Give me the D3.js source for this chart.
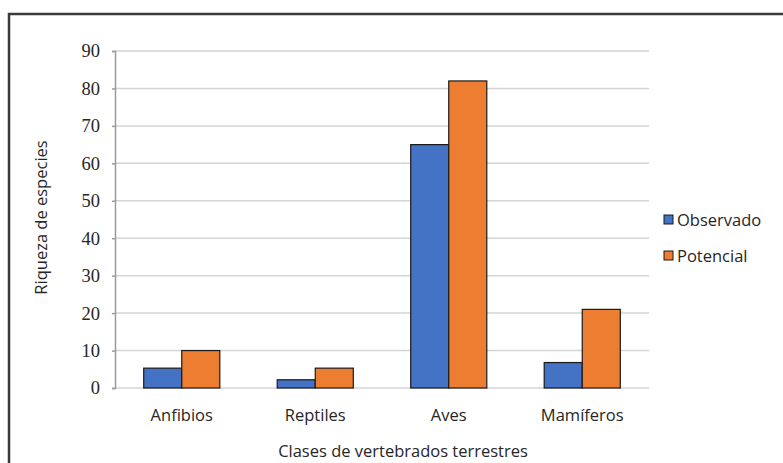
<!DOCTYPE html>
<html>
<head>
<meta charset="utf-8">
<script src="https://cdn.jsdelivr.net/npm/d3@7"></script>
<style>
  body { margin: 0; background: #fff; }
  svg { display: block; }
</style>
</head>
<body>
<div id="canvas"></div>
<script>
const categories = ["Anfibios", "Reptiles", "Aves", "Mamíferos"];
const seriesNames = ["Observado", "Potencial"];
const observado = [5.3, 2.2, 65, 6.8];
const potencial = [10, 5.3, 82, 21];
const yTicks = [0, 10, 20, 30, 40, 50, 60, 70, 80, 90];
const colors = ["#4472C4", "#ED7D31"];

const width = 783;
const height = 463;
const margin = { top: 51, left: 115, bottom: 75, right: 134 };
const iwidth = width - margin.left - margin.right;
const iheight = height - margin.top - margin.bottom;
const sans = "'Open Sans', sans-serif";
const textColor = "#262626";

const svg = d3.select("#canvas").append("svg")
  .attr("width", width)
  .attr("height", height);

// frame of the cut-out figure
svg.append("path")
  .attr("d", `M9,${height} V14 H${width}`)
  .attr("fill", "none")
  .attr("stroke", "#3a3a3a")
  .attr("stroke-width", 2.5);

const g = svg.append("g")
  .attr("transform", `translate(${margin.left},${margin.top})`);

const y = d3.scaleLinear().domain([0, 90]).range([iheight, 0]);

const x = d3.scaleBand()
  .domain(categories)
  .range([0, iwidth])
  .paddingInner(0.43)
  .paddingOuter(0.215);

const x1 = d3.scaleBand()
  .domain(seriesNames)
  .range([0, x.bandwidth()]);

// gridlines
g.selectAll(".grid")
  .data(yTicks)
  .enter()
  .append("line")
  .attr("x1", 0)
  .attr("x2", iwidth)
  .attr("y1", (d) => y(d))
  .attr("y2", (d) => y(d))
  .attr("stroke", "#d4d4d4")
  .attr("stroke-width", 1.5);

const rows = categories.map((c, i) => ({ cat: c, values: [observado[i], potencial[i]] }));

g.selectAll(".group")
  .data(rows)
  .enter()
  .append("g")
  .attr("transform", (d) => `translate(${x(d.cat)},0)`)
  .selectAll("rect")
  .data((d) => d.values.map((v, j) => ({ name: seriesNames[j], value: v, j: j })))
  .enter()
  .append("rect")
  .attr("x", (d) => x1(d.name))
  .attr("y", (d) => y(d.value))
  .attr("width", x1.bandwidth())
  .attr("height", (d) => iheight - y(d.value))
  .attr("fill", (d) => colors[d.j])
  .attr("stroke", "#1a1a1a")
  .attr("stroke-width", 1.2);

// y axis
const yAxis = g.append("g")
  .call(d3.axisLeft(y).tickValues(yTicks).tickSize(3).tickPadding(12));
yAxis.attr("font-family", null).attr("font-size", null);
yAxis.select(".domain").attr("stroke", "#9a9a9a").attr("stroke-width", 1.5);
yAxis.selectAll(".tick line").attr("stroke", "#9a9a9a").attr("stroke-width", 1.5);
yAxis.selectAll("text")
  .style("font-family", "'Liberation Serif', 'Times New Roman', serif")
  .style("font-size", "18.5px")
  .attr("fill", textColor);

// category labels
g.selectAll(".cat")
  .data(categories)
  .enter()
  .append("text")
  .attr("x", (d) => x(d) + x.bandwidth() / 2)
  .attr("y", iheight + 33)
  .attr("text-anchor", "middle")
  .style("font-family", sans)
  .style("font-size", "16.5px")
  .attr("fill", textColor)
  .text((d) => d);

// axis titles
svg.append("text")
  .attr("x", 403)
  .attr("y", 457)
  .attr("text-anchor", "middle")
  .style("font-family", sans)
  .style("font-size", "16.5px")
  .attr("fill", textColor)
  .text("Clases de vertebrados terrestres");

svg.append("text")
  .attr("transform", `translate(47,${margin.top + iheight / 2 - 2}) rotate(-90)`)
  .attr("text-anchor", "middle")
  .style("font-family", sans)
  .style("font-size", "16.5px")
  .attr("fill", textColor)
  .text("Riqueza de especies");

// legend
const legend = svg.append("g").attr("transform", "translate(664,215)");
const items = legend.selectAll("g")
  .data(seriesNames)
  .enter()
  .append("g")
  .attr("transform", (d, i) => `translate(0,${i * 36})`);
items.append("rect")
  .attr("width", 9)
  .attr("height", 9)
  .attr("fill", (d, i) => colors[i])
  .attr("stroke", "#1a1a1a")
  .attr("stroke-width", 1);
items.append("text")
  .attr("x", 13)
  .attr("y", 11)
  .style("font-family", sans)
  .style("font-size", "16.5px")
  .attr("fill", textColor)
  .text((d) => d);
</script>
</body>
</html>
